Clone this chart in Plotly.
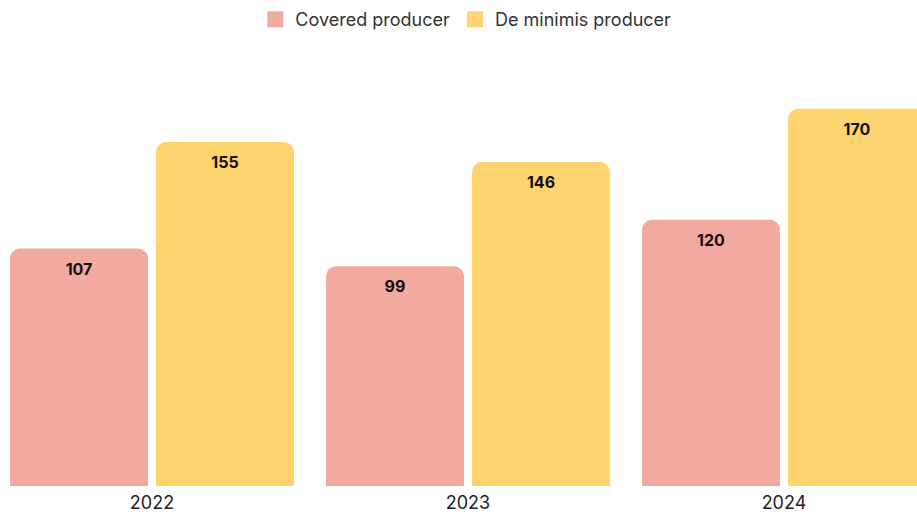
import plotly.graph_objects as go

years = ["2022", "2023", "2024"]
covered = [107, 99, 120]
de_minimis = [155, 146, 170]

series_names = ["Covered producer", "De minimis producer"]
series_colors = ["#F2A9A0", "#FED46E"]

fig = go.Figure()
for name, vals, col in zip(series_names, [covered, de_minimis], series_colors):
    fig.add_trace(go.Bar(
        name=name, x=years, y=vals, showlegend=False,
        marker=dict(color=col, line=dict(width=0)),
        text=[str(v) for v in vals], textposition="inside", insidetextanchor="end",
        textfont=dict(family="Inter", size=16, color="#111111", weight="bold"),
        textangle=0, cliponaxis=False,
    ))
# legend entries with larger square symbols
for name, col in zip(series_names, series_colors):
    fig.add_trace(go.Scatter(
        name=name, x=[None], y=[None], mode="markers",
        marker=dict(symbol="square", size=22, color=col),
        showlegend=True,
    ))

fig.update_layout(
    width=917, height=512,
    margin=dict(l=0, r=0, t=60, b=26),
    paper_bgcolor="white", plot_bgcolor="white",
    barmode="group", bargap=0.076, bargroupgap=0.055,
    barcornerradius=10,
    font=dict(family="Inter", color="#222222"),
    legend=dict(orientation="h", x=0.508, xanchor="center", y=0.998, yanchor="top",
                yref="container", font=dict(size=18, color="#333333"),
                itemsizing="trace", traceorder="normal", itemwidth=30),
    xaxis=dict(range=[-0.481, 2.421], showgrid=False, showline=False, ticks="",
               tickfont=dict(size=18, color="#222222"), ticklabelstandoff=4,
               fixedrange=True),
    yaxis=dict(range=[0, 192], visible=False, showgrid=False, fixedrange=True),
)

fig.write_html("out.html", config={"displayModeBar": False},
               post_script="document.body.style.margin='0';document.body.style.overflow='hidden';")
